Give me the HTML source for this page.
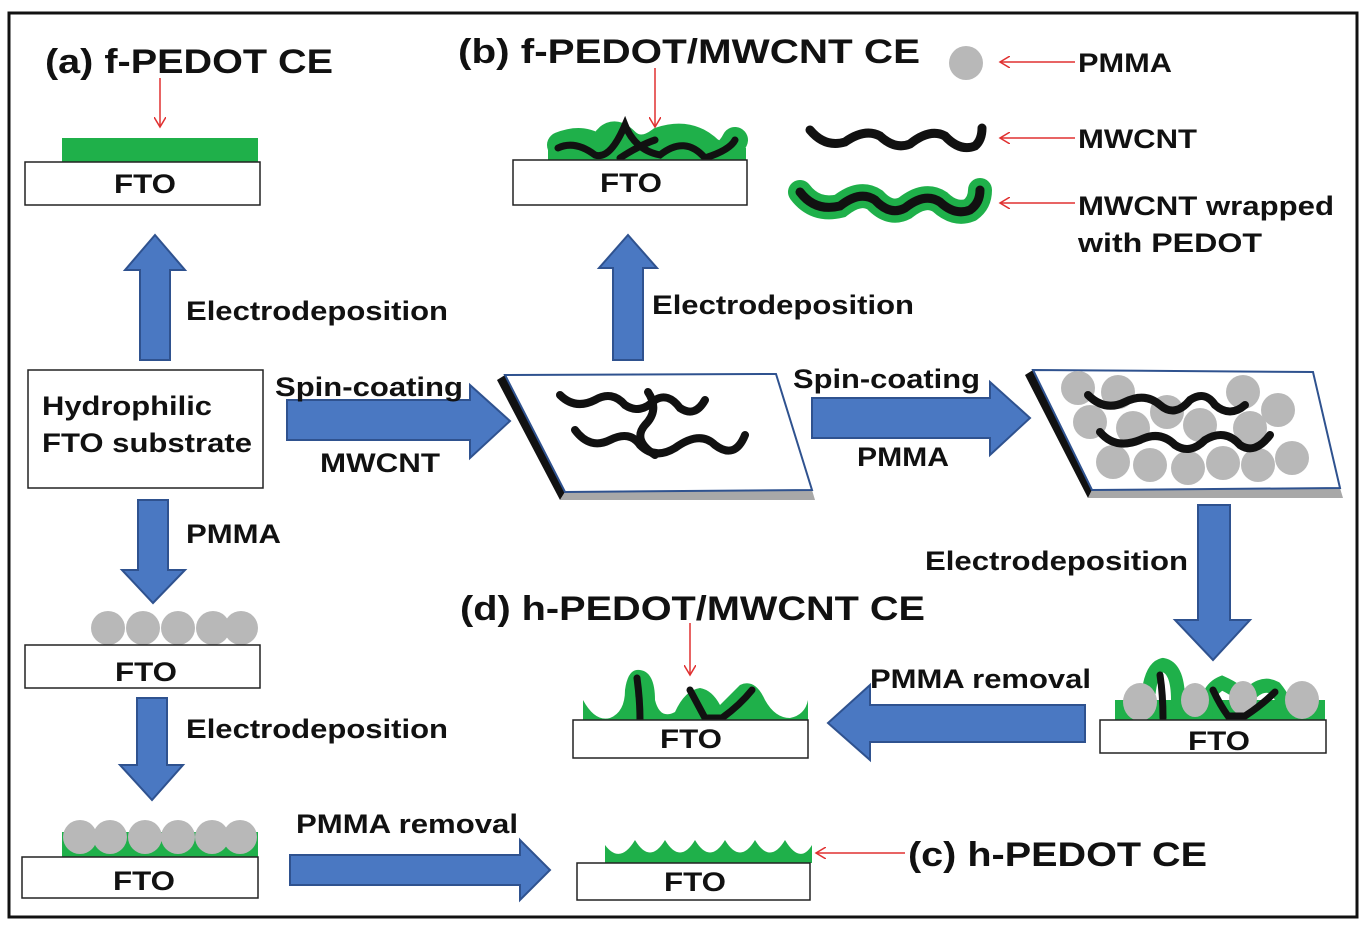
<!DOCTYPE html>
<html><head><meta charset="utf-8"><style>
html,body{margin:0;padding:0;background:#fff;}
svg{display:block;}
text{font-family:"Liberation Sans",Arial,sans-serif;font-weight:bold;fill:#111;}
</style></head><body>
<svg width="1366" height="926" viewBox="0 0 1366 926" xmlns="http://www.w3.org/2000/svg">
<defs>
<marker id="ra" markerWidth="12" markerHeight="12" refX="10" refY="6" orient="auto" markerUnits="userSpaceOnUse">
<path d="M0,0 L10,6 L0,12" fill="none" stroke="#e03030" stroke-width="1.5"/></marker>
</defs>
<rect x="9" y="13" width="1348" height="904" fill="#fff" stroke="#111" stroke-width="3"/>

<g fill="#4a78c2" stroke="#2f528f" stroke-width="2">
<path d="M140,360 V270 H125 L155,235 L185,270 H170 V360 Z"/>
<path d="M613,360 V268 H599 L628,235 L657,268 H643 V360 Z"/>
<path d="M287,400 H470 V385 L510,421 L470,458 V440 H287 Z"/>
<path d="M812,398 H990 V382 L1030,418 L990,455 V438 H812 Z"/>
<path d="M138,500 H168 V570 H185 L153,603 L122,570 H138 Z"/>
<path d="M137,698 H167 V765 H183 L152,800 L120,765 H137 Z"/>
<path d="M290,855 H520 V840 L550,870 L520,900 V885 H290 Z"/>
<path d="M1198,505 H1230 V620 H1250 L1213,660 L1175,620 H1198 Z"/>
<path d="M1085,705 V742 H870 V760 L828,723 L870,685 V705 Z"/>
</g>

<!-- (a) -->
<text x="45" y="73" font-size="34" textLength="288" lengthAdjust="spacingAndGlyphs">(a) f-PEDOT CE</text>
<line x1="160" y1="78" x2="160" y2="127" stroke="#e03030" stroke-width="1.5" marker-end="url(#ra)"/>
<rect x="62" y="138" width="196" height="24" fill="#1fb04a"/>
<rect x="25" y="162" width="235" height="43" fill="#fff" stroke="#222" stroke-width="1.5"/>
<text x="114" y="193" font-size="27" textLength="62" lengthAdjust="spacingAndGlyphs">FTO</text>
<text x="186" y="320" font-size="27" textLength="262" lengthAdjust="spacingAndGlyphs">Electrodeposition</text>

<rect x="28" y="370" width="235" height="118" fill="#fff" stroke="#222" stroke-width="1.5"/>
<text x="42" y="415" font-size="27" textLength="170" lengthAdjust="spacingAndGlyphs">Hydrophilic</text>
<text x="42" y="452" font-size="27" textLength="210" lengthAdjust="spacingAndGlyphs">FTO substrate</text>
<text x="275" y="396" font-size="27" textLength="188" lengthAdjust="spacingAndGlyphs">Spin-coating</text>
<text x="320" y="472" font-size="27" textLength="120" lengthAdjust="spacingAndGlyphs">MWCNT</text>
<text x="186" y="543" font-size="27" textLength="95" lengthAdjust="spacingAndGlyphs">PMMA</text>

<g fill="#b8b8b8">
<circle cx="108" cy="628" r="17"/><circle cx="143" cy="628" r="17"/><circle cx="178" cy="628" r="17"/><circle cx="213" cy="628" r="17"/><circle cx="241" cy="628" r="17"/>
</g>
<rect x="25" y="645" width="235" height="43" fill="#fff" stroke="#222" stroke-width="1.5"/>
<text x="115" y="681" font-size="27" textLength="62" lengthAdjust="spacingAndGlyphs">FTO</text>
<text x="186" y="738" font-size="27" textLength="262" lengthAdjust="spacingAndGlyphs">Electrodeposition</text>

<rect x="62" y="832" width="196" height="25" fill="#1fb04a"/>
<g fill="#b8b8b8">
<circle cx="80" cy="837" r="17"/><circle cx="110" cy="837" r="17"/><circle cx="145" cy="837" r="17"/><circle cx="178" cy="837" r="17"/><circle cx="212" cy="837" r="17"/><circle cx="240" cy="837" r="17"/>
</g>
<rect x="22" y="857" width="236" height="41" fill="#fff" stroke="#222" stroke-width="1.5"/>
<text x="113" y="890" font-size="27" textLength="62" lengthAdjust="spacingAndGlyphs">FTO</text>
<text x="296" y="833" font-size="27" textLength="222" lengthAdjust="spacingAndGlyphs">PMMA removal</text>

<!-- (c) -->
<path d="M605,863 V845 Q620,865 635,840 Q650,865 665,840 Q680,865 695,840 Q710,865 725,840 Q740,865 755,840 Q770,865 785,840 Q800,865 812,845 V863 Z" fill="#1fb04a"/>
<rect x="577" y="863" width="233" height="37" fill="#fff" stroke="#222" stroke-width="1.5"/>
<text x="664" y="891" font-size="27" textLength="62" lengthAdjust="spacingAndGlyphs">FTO</text>
<line x1="905" y1="853" x2="816" y2="853" stroke="#e03030" stroke-width="1.5" marker-end="url(#ra)"/>
<text x="908" y="866" font-size="34" textLength="299" lengthAdjust="spacingAndGlyphs">(c) h-PEDOT CE</text>

<!-- (b) -->
<text x="458" y="63" font-size="34" textLength="462" lengthAdjust="spacingAndGlyphs">(b) f-PEDOT/MWCNT CE</text>
<line x1="655" y1="68" x2="655" y2="127" stroke="#e03030" stroke-width="1.5" marker-end="url(#ra)"/>
<path d="M560,145 Q585,135 600,150 Q610,125 625,140 Q640,155 660,140 Q690,130 710,150 Q725,160 735,140" fill="none" stroke="#1fb04a" stroke-width="26" stroke-linecap="round"/>
<rect x="548" y="148" width="198" height="12" fill="#1fb04a"/>
<path d="M558,148 Q575,140 595,155 Q610,160 625,125 Q635,150 660,155 Q685,135 705,158 Q730,150 735,140 M620,158 Q640,145 655,140" fill="none" stroke="#111" stroke-width="7" stroke-linecap="round"/>
<rect x="513" y="160" width="234" height="45" fill="#fff" stroke="#222" stroke-width="1.5"/>
<text x="600" y="192" font-size="27" textLength="62" lengthAdjust="spacingAndGlyphs">FTO</text>

<!-- legend -->
<circle cx="966" cy="63" r="17" fill="#b8b8b8"/>
<line x1="1075" y1="62" x2="1000" y2="62" stroke="#e03030" stroke-width="1.5" marker-end="url(#ra)"/>
<text x="1078" y="72" font-size="27" textLength="94" lengthAdjust="spacingAndGlyphs">PMMA</text>
<path d="M810,130 Q825,148 845,142 Q865,128 880,136 Q895,150 910,144 Q930,128 945,136 Q960,152 975,146 Q982,140 982,128" fill="none" stroke="#111" stroke-width="9" stroke-linecap="round"/>
<line x1="1075" y1="138" x2="1000" y2="138" stroke="#e03030" stroke-width="1.5" marker-end="url(#ra)"/>
<text x="1078" y="148" font-size="27" textLength="119" lengthAdjust="spacingAndGlyphs">MWCNT</text>
<path d="M800,192 Q815,212 840,206 Q860,190 875,200 Q890,216 905,208 Q925,192 940,202 Q955,216 970,210 Q980,203 980,190" fill="none" stroke="#1fb04a" stroke-width="24" stroke-linecap="round"/>
<path d="M800,192 Q815,212 840,206 Q860,190 875,200 Q890,216 905,208 Q925,192 940,202 Q955,216 970,210 Q980,203 980,190" fill="none" stroke="#111" stroke-width="9" stroke-linecap="round"/>
<line x1="1075" y1="203" x2="1000" y2="203" stroke="#e03030" stroke-width="1.5" marker-end="url(#ra)"/>
<text x="1078" y="215" font-size="27" textLength="256" lengthAdjust="spacingAndGlyphs">MWCNT wrapped</text>
<text x="1078" y="252" font-size="27" textLength="184" lengthAdjust="spacingAndGlyphs">with PEDOT</text>
<text x="652" y="314" font-size="27" textLength="262" lengthAdjust="spacingAndGlyphs">Electrodeposition</text>

<!-- parallelogram 1 -->
<polygon points="497,380 505,375 565,492 560,500" fill="#111"/>
<polygon points="565,492 812,490 815,500 560,500" fill="#a8a8a8"/>
<polygon points="505,375 776,374 812,490 565,492" fill="#fff" stroke="#2f528f" stroke-width="2"/>
<g fill="none" stroke="#111" stroke-width="8" stroke-linecap="round">
<path d="M560,395 Q575,410 595,400 Q612,390 625,405 Q640,415 655,400 Q668,392 680,408 Q695,418 705,400"/>
<path d="M648,392 Q660,410 645,425 Q632,440 655,455"/>
<path d="M575,430 Q590,450 610,440 Q630,430 640,445 Q655,460 675,448 Q700,430 715,445 Q735,460 745,435"/>
</g>
<text x="793" y="388" font-size="27" textLength="187" lengthAdjust="spacingAndGlyphs">Spin-coating</text>
<text x="857" y="466" font-size="27" textLength="92" lengthAdjust="spacingAndGlyphs">PMMA</text>

<!-- parallelogram 2 -->
<polygon points="1025,375 1033,370 1092,490 1088,498" fill="#111"/>
<polygon points="1092,490 1340,488 1343,498 1088,498" fill="#a8a8a8"/>
<polygon points="1033,370 1313,372 1340,488 1092,490" fill="#fff" stroke="#2f528f" stroke-width="2"/>
<g fill="#b8b8b8">
<circle cx="1078" cy="388" r="17"/><circle cx="1118" cy="392" r="17"/><circle cx="1243" cy="392" r="17"/><circle cx="1278" cy="410" r="17"/>
<circle cx="1090" cy="422" r="17"/><circle cx="1133" cy="428" r="17"/><circle cx="1167" cy="412" r="17"/><circle cx="1200" cy="425" r="17"/><circle cx="1250" cy="428" r="17"/>
<circle cx="1113" cy="462" r="17"/><circle cx="1150" cy="465" r="17"/><circle cx="1188" cy="468" r="17"/><circle cx="1223" cy="463" r="17"/><circle cx="1258" cy="465" r="17"/><circle cx="1292" cy="458" r="17"/>
</g>
<g fill="none" stroke="#111" stroke-width="8" stroke-linecap="round">
<path d="M1088,395 Q1105,412 1125,402 Q1145,392 1160,405 Q1175,418 1190,400 Q1205,390 1215,405 Q1230,418 1245,405"/>
<path d="M1100,432 Q1115,450 1140,440 Q1160,430 1175,445 Q1190,455 1205,440 Q1225,428 1240,445 Q1255,455 1270,435"/>
</g>

<text x="925" y="570" font-size="27" textLength="263" lengthAdjust="spacingAndGlyphs">Electrodeposition</text>

<!-- (d) -->
<text x="460" y="620" font-size="34" textLength="465" lengthAdjust="spacingAndGlyphs">(d) h-PEDOT/MWCNT CE</text>
<line x1="690" y1="623" x2="690" y2="675" stroke="#e03030" stroke-width="1.5" marker-end="url(#ra)"/>
<path d="M583,720 V700 Q595,722 610,718 Q625,712 625,690 Q628,668 640,670 Q655,672 655,700 Q660,720 675,712 Q685,690 700,688 Q712,690 720,705 Q730,695 740,685 Q755,678 765,700 Q775,718 790,718 Q805,715 808,700 V720 Z" fill="#1fb04a"/>
<g fill="none" stroke="#111" stroke-width="7" stroke-linecap="round">
<path d="M640,720 Q640,700 637,678"/>
<path d="M690,690 Q698,705 705,718 M705,718 H722 Q740,705 752,690"/>
</g>
<rect x="573" y="720" width="235" height="38" fill="#fff" stroke="#222" stroke-width="1.5"/>
<text x="660" y="748" font-size="27" textLength="62" lengthAdjust="spacingAndGlyphs">FTO</text>
<text x="870" y="688" font-size="27" textLength="221" lengthAdjust="spacingAndGlyphs">PMMA removal</text>

<!-- right (d) precursor -->
<path d="M1115,720 V700 H1325 V720 Z" fill="#1fb04a"/>
<path d="M1148,700 Q1150,668 1163,665 Q1178,668 1178,700 M1205,720 Q1205,690 1222,683 Q1238,690 1245,700 Q1260,680 1275,688 Q1285,700 1290,718" fill="none" stroke="#1fb04a" stroke-width="14" stroke-linecap="round"/>
<g fill="#b8b8b8">
<ellipse cx="1140" cy="702" rx="17" ry="19"/><ellipse cx="1195" cy="700" rx="14" ry="17"/><ellipse cx="1243" cy="698" rx="14" ry="17"/><ellipse cx="1302" cy="700" rx="17" ry="19"/>
</g>
<g fill="none" stroke="#111" stroke-width="7" stroke-linecap="round">
<path d="M1163,718 Q1163,695 1160,675"/>
<path d="M1213,690 Q1220,705 1228,716 H1245 Q1262,705 1275,692"/>
</g>
<rect x="1100" y="720" width="226" height="33" fill="#fff" stroke="#222" stroke-width="1.5"/>
<text x="1188" y="750" font-size="27" textLength="62" lengthAdjust="spacingAndGlyphs">FTO</text>
</svg>
</body></html>
